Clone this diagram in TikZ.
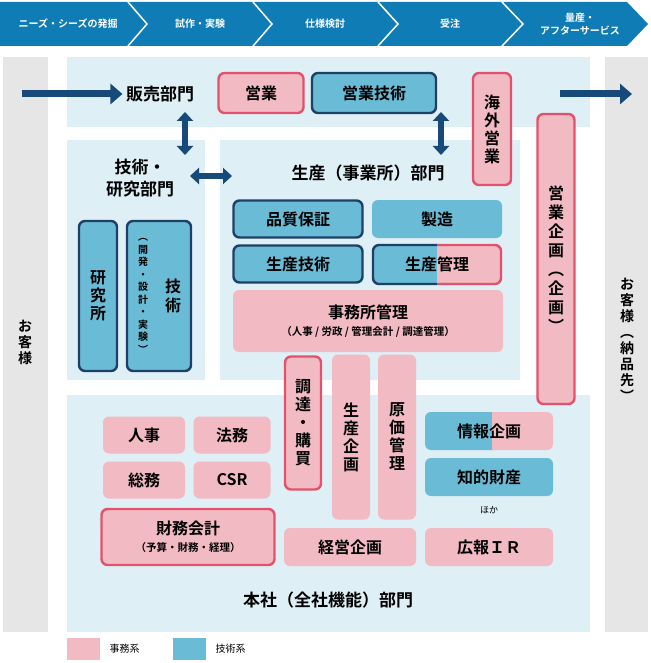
\documentclass[tikz,border=0pt]{standalone}
\usepackage{fontspec}
\setmainfont{Noto Sans CJK JP}[BoldFont={Noto Sans CJK JP Bold}]
\usetikzlibrary{arrows.meta, positioning}
\definecolor{barblue}{RGB}{16, 124, 182}
\definecolor{paleblue}{RGB}{222, 239, 246}
\definecolor{jimupink}{RGB}{242, 186, 194}
\definecolor{jimured}{RGB}{226, 82, 108}
\definecolor{gijublue}{RGB}{106, 188, 214}
\definecolor{navy}{RGB}{30, 64, 102}
\definecolor{arrnavy}{RGB}{23, 74, 120}
\definecolor{sidegray}{RGB}{230, 230, 230}
\begin{document}
\begin{tikzpicture}[x=1pt, y=-1pt, font=\bfseries,
  pbox/.style={fill=jimupink, rounded corners=6pt, align=center, inner sep=0pt, font=\fontsize{16}{18}\selectfont\bfseries},
  pboxr/.style={pbox, draw=jimured, line width=2.4pt},
  bbox/.style={fill=gijublue, rounded corners=6pt, align=center, inner sep=0pt, font=\fontsize{16}{18}\selectfont\bfseries},
  bboxd/.style={bbox, draw=navy, line width=2.4pt},
  dept/.style={align=center, font=\fontsize{17}{22}\selectfont\bfseries},
  barlbl/.style={white, align=center, font=\fontsize{10}{13}\selectfont\bfseries},
  darr/.style={{Triangle[width=16pt,length=9pt]}-{Triangle[width=16pt,length=9pt]}, line width=6pt, arrnavy, shorten <=0pt},
  sarr/.style={-{Triangle[width=20pt,length=12pt]}, line width=7pt, arrnavy}
]
  \useasboundingbox (0,0) rectangle (650,663);
  % process bar
  \fill[barblue] (0,2) -- (627,2) -- (648,24) -- (627,46) -- (0,46) -- cycle;
  \foreach \n/\t in {128/147, 253/272, 378/398, 502/523}
    \draw[white, line width=1.5pt] (\n,2) -- (\t,24) -- (\n,46);
  \node[barlbl] (p1) at (68,24) {ニーズ・シーズの発掘};
  \node[barlbl] (p2) at (200,24) {試作・実験};
  \node[barlbl] (p3) at (325,24) {仕様検討};
  \node[barlbl] (p4) at (450,24) {受注};
  \node[barlbl] (p5) at (580,24) {量産・\\アフターサービス};
  % areas
  \fill[sidegray] (3,57) rectangle (48,632);
  \fill[sidegray] (605,57) rectangle (648,632);
  \fill[paleblue] (67,57) rectangle (590,127);
  \fill[paleblue] (67,140) rectangle (205,380);
  \fill[paleblue] (220,140) rectangle (520,380);
  \fill[paleblue] (67,395) rectangle (590,632);
  % customers
  \node[dept, font=\fontsize{14}{16}\selectfont\bfseries] (cl) at (25,342) {お\\客\\様};
  \node[dept, font=\fontsize{14}{16}\selectfont\bfseries] (cr) at (627,340) {お\\客\\様\\︵\\納\\品\\先\\︶};
  \coordinate (al) at (22,94);
  \coordinate (ar) at (632,94);
  \node[dept] (sales) at (160,94) {販売部門};
  \draw[sarr] (al) -- (sales.west);
  % sales boxes
  \node[pboxr, minimum width=85pt, minimum height=40pt] (eigyo) at (261,93) {営業};
  \node[bboxd, minimum width=124pt, minimum height=40pt] (eigi) at (374,93) {営業技術};
  \node[pboxr, minimum width=38pt, minimum height=112pt] (kaigai) at (492,129) {海\\外\\営\\業};
  \node[pboxr, minimum width=37pt, minimum height=290pt, font=\fontsize{16}{19}\selectfont\bfseries] (kikaku) at (556,259) {営\\業\\企\\画\\︵\\企\\画\\︶};
  \coordinate (arl) at (560,94);
  \draw[sarr] (arl) -- (ar);
  % tech dept
  \node[dept] (tech) at (140,178) {技術・\\研究部門};
  \node[bboxd, minimum width=38pt, minimum height=150pt] (kenkyu) at (98,296) {研\\究\\所};
  \node[bboxd, minimum width=64pt, minimum height=150pt] (gijutsu) at (159,296) {};
  \node[font=\fontsize{16}{19}\selectfont\bfseries, align=center] (gjt) at (173,296) {技\\術};
  \node[font=\fontsize{10}{12.5}\selectfont\bfseries, align=center] (gjs) at (143,296) {︵\\開\\発\\・\\設\\計\\・\\実\\験\\︶};
  % production
  \node[dept] (prod) at (368,173) {生産（事業所）部門};
  \node[bboxd, minimum width=129pt, minimum height=37pt] (hinshitsu) at (298,219) {品質保証};
  \node[bbox, minimum width=130pt, minimum height=38pt] (seizo) at (437,219) {製造};
  \node[bboxd, minimum width=129pt, minimum height=37pt] (seigi) at (298,264) {生産技術};
  \fill[gijublue, rounded corners=6pt] (372,245) rectangle (445,284);
  \fill[jimupink, rounded corners=6pt] (430,245) rectangle (502,284);
  \fill[gijublue] (425,245) rectangle (437,284);
  \draw[navy, line width=2.4pt, rounded corners=6pt] (437,245) -- (373,245) -- (373,284) -- (437,284);
  \draw[jimured, line width=2.4pt, rounded corners=6pt] (437,245) -- (501,245) -- (501,284) -- (437,284);
  \node[font=\fontsize{16}{18}\selectfont\bfseries] (seikan) at (437,264) {生産管理};
  \node[pbox, minimum width=270pt, minimum height=62pt] (jimusho) at (368,321) {事務所管理\\[-1pt]{\fontsize{10.5}{12}\selectfont（人事 / 労政 / 管理会計 / 調達管理）}};
  \draw[darr] (185,112) -- (185,155);
  \draw[darr] (441,112) -- (441,155);
  \draw[darr] (190,176) -- (232,176);
  % head office
  \node[pboxr, minimum width=36pt, minimum height=133pt] (chotatsu) at (303,423) {調\\達\\・\\購\\買};
  \node[pbox, minimum width=38pt, minimum height=165pt] (seikikaku) at (351,437) {生\\産\\企\\画};
  \node[pbox, minimum width=38pt, minimum height=165pt] (genka) at (397,437) {原\\価\\管\\理};
  \fill[gijublue, rounded corners=6pt] (425,412) rectangle (500,450);
  \fill[jimupink, rounded corners=6pt] (485,412) rectangle (553,450);
  \fill[gijublue] (480,412) rectangle (492,450);
  \node[font=\fontsize{16}{18}\selectfont\bfseries] (joho) at (489,431) {情報企画};
  \node[bbox, minimum width=128pt, minimum height=38pt] (chiteki) at (489,477) {知的財産};
  \node[font=\fontsize{9}{11}\selectfont] (hoka) at (489,510) {ほか};
  \node[pbox, minimum width=82pt, minimum height=37pt] (jinji) at (144,435) {人事};
  \node[pbox, minimum width=77pt, minimum height=37pt] (homu) at (232,435) {法務};
  \node[pbox, minimum width=82pt, minimum height=37pt] (somu) at (144,480) {総務};
  \node[pbox, minimum width=77pt, minimum height=37pt] (csr) at (232,480) {CSR};
  \node[pboxr, minimum width=173pt, minimum height=56pt] (zaimu) at (188,537) {財務会計\\[-1pt]{\fontsize{10.5}{12}\selectfont（予算・財務・経理）}};
  \node[pbox, minimum width=132pt, minimum height=38pt] (keiei) at (350,547) {経営企画};
  \node[pbox, minimum width=128pt, minimum height=38pt] (koho) at (489,547) {広報ＩＲ};
  \node[dept] (honsha) at (328,600) {本社（全社機能）部門};
  % legend
  \fill[jimupink] (67,638) rectangle (100,660);
  \node[font=\fontsize{10}{12}\selectfont, anchor=west] (lg1) at (106,649) {事務系};
  \fill[gijublue] (173,638) rectangle (206,660);
  \node[font=\fontsize{10}{12}\selectfont, anchor=west] (lg2) at (212,649) {技術系};
\end{tikzpicture}
\end{document}
